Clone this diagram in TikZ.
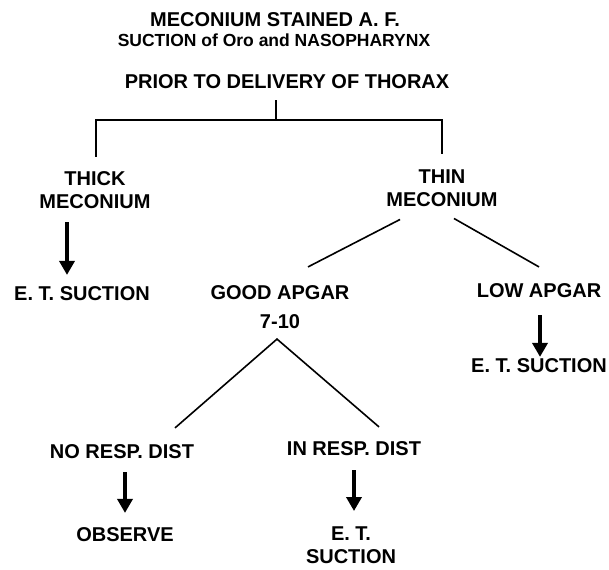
\documentclass[tikz,border=0pt]{standalone}
\usepackage{fontspec}
\setmainfont{Liberation Sans}
\usetikzlibrary{arrows.meta}
\begin{document}
\begin{tikzpicture}[x=1pt,y=-1pt,
  lbl/.style={inner sep=0pt,outer sep=0pt,align=center,font=\bfseries\fontsize{20}{23}\selectfont},
  sublbl/.style={inner sep=0pt,outer sep=0pt,align=center,font=\bfseries\fontsize{17.5}{21}\selectfont},
  conn/.style={line width=1.6pt},
  brk/.style={line width=2pt},
  bigarrow/.style={line width=4pt,-{Triangle[length=14pt,width=15pt]}}]
\useasboundingbox (0,0) rectangle (609,569);
% texts
\node[lbl] (title) at (275,20) {MECONIUM STAINED A. F.};
\node[sublbl] (sub) at (274,40) {SUCTION of Oro and NASOPHARYNX};
\node[lbl] (prior) at (287,82) {PRIOR TO DELIVERY OF THORAX};
\node[lbl] (thick) at (95,190.5) {THICK\\MECONIUM};
\node[lbl] (etsl) at (82,294) {E. T. SUCTION};
\node[lbl] (thin) at (442,188) {THIN\\MECONIUM};
\node[lbl] (good) at (280,307.5) {GOOD APGAR\\[6pt]7-10};
\node[lbl] (low) at (539,291) {LOW APGAR};
\node[lbl] (etsr) at (539,366) {E. T. SUCTION};
\node[lbl] (nord) at (122,452) {NO RESP. DIST};
\node[lbl] (observe) at (125,535) {OBSERVE};
\node[lbl] (inrd) at (354,449) {IN RESP. DIST};
\node[lbl] (ets3) at (351,545.5) {E. T.\\SUCTION};
% bracket
\draw[brk] ([xshift=-11pt,yshift=-11pt]prior.south) -- ([xshift=-11pt,yshift=-31pt]prior.south);
\draw[brk] ([xshift=1pt,yshift=15pt]thick.north) |- ([xshift=-11pt,yshift=-31pt]prior.south) -| ([yshift=16pt]thin.north);
% diagonals
\draw[conn] ([xshift=-42pt,yshift=-13pt]thin.south) -- ([xshift=28pt,yshift=19pt]good.north);
\draw[conn] ([xshift=12pt,yshift=-12pt]thin.south) -- ([yshift=17pt]low.north);
\draw[conn] ([xshift=53pt,yshift=17pt]nord.north) -- ([xshift=-3pt,yshift=-10pt]good.south) -- ([xshift=25pt,yshift=15pt]inrd.north);
% arrows
\draw[bigarrow] ([xshift=-28pt,yshift=-13pt]thick.south) -- ([xshift=-15pt,yshift=12pt]etsl.north);
\draw[bigarrow] ([xshift=1pt,yshift=-17pt]low.south) -- ([xshift=1pt,yshift=2pt]etsr.north);
\draw[bigarrow] ([xshift=3pt,yshift=-13pt]nord.south) -- ([yshift=15pt]observe.north);
\draw[bigarrow] ([yshift=-14pt]inrd.south) -- ([xshift=3pt,yshift=16pt]ets3.north);
\end{tikzpicture}
\end{document}
